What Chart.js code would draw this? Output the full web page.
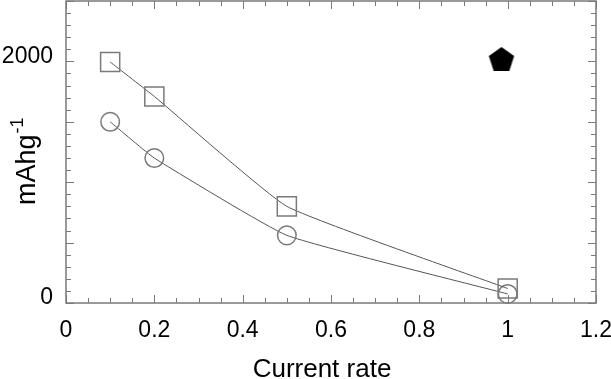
<!DOCTYPE html>
<html>
<head>
<meta charset="utf-8">
<script src="https://cdn.jsdelivr.net/npm/chart.js@4.4.0/dist/chart.umd.min.js"></script>
<style>
  html, body { margin: 0; padding: 0; background: #fff; }
  #wrap { width: 611px; height: 379px; }
</style>
</head>
<body>
<div id="wrap"><canvas id="c" width="611" height="379"></canvas></div>
<script>
// ---- data ----
const rates = [0.1, 0.2, 0.5, 1];
const squareCapacity = [1995, 1710, 800, 120];
const circleCapacity = [1500, 1200, 560, 75];
const pentagonRate = [0.986];
const pentagonCapacity = [2020];
const xTickValues = [0, 0.2, 0.4, 0.6, 0.8, 1, 1.2];
const yTickLabels = { 0: '0', 2000: '2000' };
const xTitle = 'Current rate';
const yTitleMain = 'mAhg';
const yTitleSup = '-1';

const FONT = '"Liberation Sans", Arial, sans-serif';
const AXIS = '#7a7a7a';

function pentagonCanvas(size) {
  const cv = document.createElement('canvas');
  cv.width = size; cv.height = size;
  const g = cv.getContext('2d');
  const r = size / 2 - 0.7;
  const cx = size / 2, cy = size / 2 + 1.2;
  g.beginPath();
  for (let i = 0; i < 5; i++) {
    const a = -Math.PI / 2 + i * 2 * Math.PI / 5;
    const px = cx + r * Math.cos(a), py = cy + r * Math.sin(a);
    if (i === 0) g.moveTo(px, py); else g.lineTo(px, py);
  }
  g.closePath();
  g.fillStyle = '#000';
  g.fill();
  return cv;
}

const frameAndTicks = {
  id: 'frameAndTicks',
  afterDraw(chart) {
    const { ctx, chartArea: a, scales } = chart;
    const xs = scales.x, ys = scales.y;
    ctx.save();
    ctx.strokeStyle = AXIS;
    ctx.lineWidth = 1;
    ctx.beginPath();
    for (let i = 0; i <= 24; i++) {
      const v = i * 0.05;
      const px = Math.round(xs.getPixelForValue(v)) + 0.5;
      const len = (i % 4 === 0) ? 8 : 5;
      ctx.moveTo(px, a.bottom); ctx.lineTo(px, a.bottom - len);
      ctx.moveTo(px, a.top); ctx.lineTo(px, a.top + len);
    }
    for (let i = 0; i <= 25; i++) {
      const v = i * 100;
      const py = Math.round(ys.getPixelForValue(v)) + 0.5;
      const len = (i % 5 === 0) ? 8 : 5;
      ctx.moveTo(a.left, py); ctx.lineTo(a.left + len, py);
      ctx.moveTo(a.right, py); ctx.lineTo(a.right - len, py);
    }
    ctx.stroke();
    ctx.lineWidth = 1.5;
    ctx.strokeRect(a.left, a.top, a.right - a.left, a.bottom - a.top);
    ctx.restore();

    // x axis title
    ctx.save();
    ctx.fillStyle = '#000';
    ctx.font = '26px ' + FONT;
    ctx.textAlign = 'center';
    ctx.textBaseline = 'alphabetic';
    ctx.fillText(xTitle, 322, 377);
    ctx.restore();

    // y axis title with superscript
    ctx.save();
    ctx.fillStyle = '#000';
    ctx.translate(35, 205);
    ctx.rotate(-Math.PI / 2);
    ctx.textAlign = 'left';
    ctx.textBaseline = 'alphabetic';
    ctx.font = '27px ' + FONT;
    ctx.fillText(yTitleMain, 0, 0);
    const w = ctx.measureText(yTitleMain).width;
    ctx.font = '18px ' + FONT;
    ctx.fillText(yTitleSup, w + 1, -12);
    ctx.restore();
  }
};

new Chart(document.getElementById('c'), {
  type: 'line',
  data: {
    datasets: [
      {
        label: 'squares',
        data: rates.map((x, i) => ({ x, y: squareCapacity[i] })),
        borderColor: '#555',
        borderWidth: 1,
        tension: 0.12,
        pointStyle: 'rect',
        pointRadius: 13.5,
        pointBorderColor: '#7a7a7a',
        pointBorderWidth: 1.5,
        pointBackgroundColor: 'rgba(0,0,0,0)',
        fill: false
      },
      {
        label: 'circles',
        data: rates.map((x, i) => ({ x, y: circleCapacity[i] })),
        borderColor: '#555',
        borderWidth: 1,
        tension: 0.12,
        pointStyle: 'circle',
        pointRadius: 9.3,
        pointBorderColor: '#7a7a7a',
        pointBorderWidth: 1.5,
        pointBackgroundColor: 'rgba(0,0,0,0)',
        fill: false
      },
      {
        label: 'pentagon',
        data: pentagonRate.map((x, i) => ({ x, y: pentagonCapacity[i] })),
        showLine: false,
        pointStyle: pentagonCanvas(28),
        pointRadius: 14
      }
    ]
  },
  options: {
    responsive: false,
    animation: false,
    clip: false,
    layout: { autoPadding: false, padding: { top: 1, right: 15, left: 0, bottom: 0 } },
    plugins: { legend: { display: false }, tooltip: { enabled: false } },
    scales: {
      x: {
        type: 'linear',
        min: 0, max: 1.2,
        afterBuildTicks(scale) { scale.ticks = xTickValues.map(v => ({ value: v })); },
        ticks: {
          color: '#000',
          font: { family: FONT, size: 23 },
          padding: 14,
          maxRotation: 0,
          callback: v => String(Math.round(v * 10) / 10)
        },
        grid: { display: false, drawTicks: false },
        border: { display: false },
        afterFit(scale) { scale.height = 76; scale.paddingLeft = 0; scale.paddingRight = 0; }
      },
      y: {
        type: 'linear',
        min: 0, max: 2500,
        ticks: {
          stepSize: 500,
          color: '#000',
          font: { family: FONT, size: 23 },
          padding: 13,
          labelOffset: -5,
          callback: v => (yTickLabels[v] !== undefined ? yTickLabels[v] : '')
        },
        grid: { display: false, drawTicks: false },
        border: { display: false },
        afterFit(scale) { scale.width = 66; scale.paddingTop = 0; scale.paddingBottom = 0; }
      }
    }
  },
  plugins: [frameAndTicks]
});
</script>
</body>
</html>
